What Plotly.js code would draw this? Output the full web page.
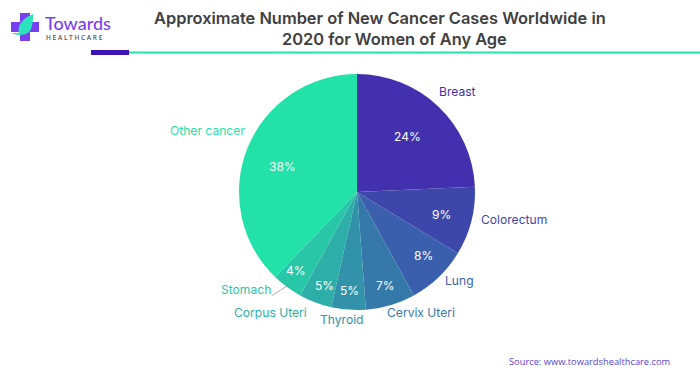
<!DOCTYPE html>
<html><head><meta charset="utf-8">
<script src="https://cdn.plot.ly/plotly-3.0.0.min.js"></script>
<style>html,body{margin:0;padding:0;background:#fff}#c{width:700px;height:375px}</style></head>
<body><div id="c"></div>
<script>
const categories=['Breast','Colorectum','Lung','Cervix Uteri','Thyroid','Corpus Uteri','Stomach','Other cancer'];
const values=[24,9,8,7,5,5,4,38];
const sliceShares=[24.3,9.4,8.3,6.8,4.7,4.5,4.2,37.8];
const colors=['#4230AE','#3D47AB','#3A5FAC','#3579AB','#3192A9','#2DAEA8','#28C7A8','#23E2A9'];
const labelX=[437,479,443,385,318,232,219,168];
const labelY=[92,219,280,312,319,312,289,131];
const pctX=[407,441,423,386,349,324,296,282];
const pctY=[136,214,255,285,290,285,270,166];
const titleLines=['Approximate Number of New Cancer Cases Worldwide in','2020 for Women of Any Age'];
const sourceText='Source: www.towardshealthcare.com';
const W=700,H=375;
const px=x=>x/W, py=y=>1-y/H;
const font='Inter, "Noto Sans", sans-serif';
const rect=(x0,y0,x1,y1,c)=>({type:'rect',xref:'paper',yref:'paper',x0:px(x0),x1:px(x1),y0:py(y0),y1:py(y1),fillcolor:c,line:{width:0},layer:'above'});
const note=(x,y,t,size,c,extra)=>Object.assign({xref:'paper',yref:'paper',x:px(x),y:py(y),text:t,showarrow:false,xanchor:'left',yanchor:'middle',font:{family:font,size:size,color:c}},extra||{});
const annotations=categories.map((c,i)=>note(labelX[i],labelY[i],c,12.1,colors[i]));
values.forEach((v,i)=>annotations.push(note(pctX[i],pctY[i],v+'%',12,'#ffffff',{xanchor:'center'})));
annotations.push(note(380,18,titleLines[0],16.4,'#404040',{xanchor:'center',font:{family:font,size:16.4,color:'#404040',weight:600}}));
annotations.push(note(394.5,39,titleLines[1],16.4,'#404040',{xanchor:'center',font:{family:font,size:16.4,color:'#404040',weight:600}}));
annotations.push(note(507,361,sourceText,9.3,'#5B3FD0',{font:{family:'Open Sans, sans-serif',size:9.3,color:'#5B3FD0'}}));
annotations.push(note(43,23,'Towards',18,'#7B3FF2',{font:{family:'Lato, sans-serif',size:18,color:'#7B3FF2',weight:500}}));
annotations.push(note(44,38,'H E A L T H C A R E',6.5,'#555555',{font:{family:'Open Sans, sans-serif',size:6.5,color:'#555555',weight:600}}));
const shapes=[
 rect(20,13,30,41,'#7B3FF2'),rect(11,22,39,32,'#7B3FF2'),
 rect(91,50,129,55,'#3D14B8'),rect(129,51.5,700,53.5,'#23E2A9'),
 {type:'path',xref:'paper',yref:'paper',layer:'above',fillcolor:'#2BE3BC',line:{width:0},
  path:`M ${px(33)} ${py(14)} C ${px(22)} ${py(18)} ${px(17)} ${py(26)} ${px(19)} ${py(33)} L ${px(11)} ${py(33)} C ${px(18)} ${py(36)} ${px(28)} ${py(36)} ${px(31)} ${py(29)} C ${px(33)} ${py(24)} ${px(33)} ${py(19)} ${px(33)} ${py(14)} Z`},
 {type:'line',xref:'paper',yref:'paper',layer:'above',x0:px(272),y0:py(295.5),x1:px(287),y1:py(286),line:{width:0.8,color:'#999999'}}
];
Plotly.newPlot('c',[{type:'pie',labels:categories,values:sliceShares,sort:false,direction:'clockwise',rotation:0,
 marker:{colors:colors,line:{width:0}},textinfo:'none',hoverinfo:'label+percent',showlegend:false,
 domain:{x:[px(239),px(475)],y:[py(310),py(74)]}}],
 {width:W,height:H,margin:{l:0,r:0,t:0,b:0},paper_bgcolor:'#fff',showlegend:false,annotations:annotations,shapes:shapes},
 {displayModeBar:false,staticPlot:true});
</script></body></html>
